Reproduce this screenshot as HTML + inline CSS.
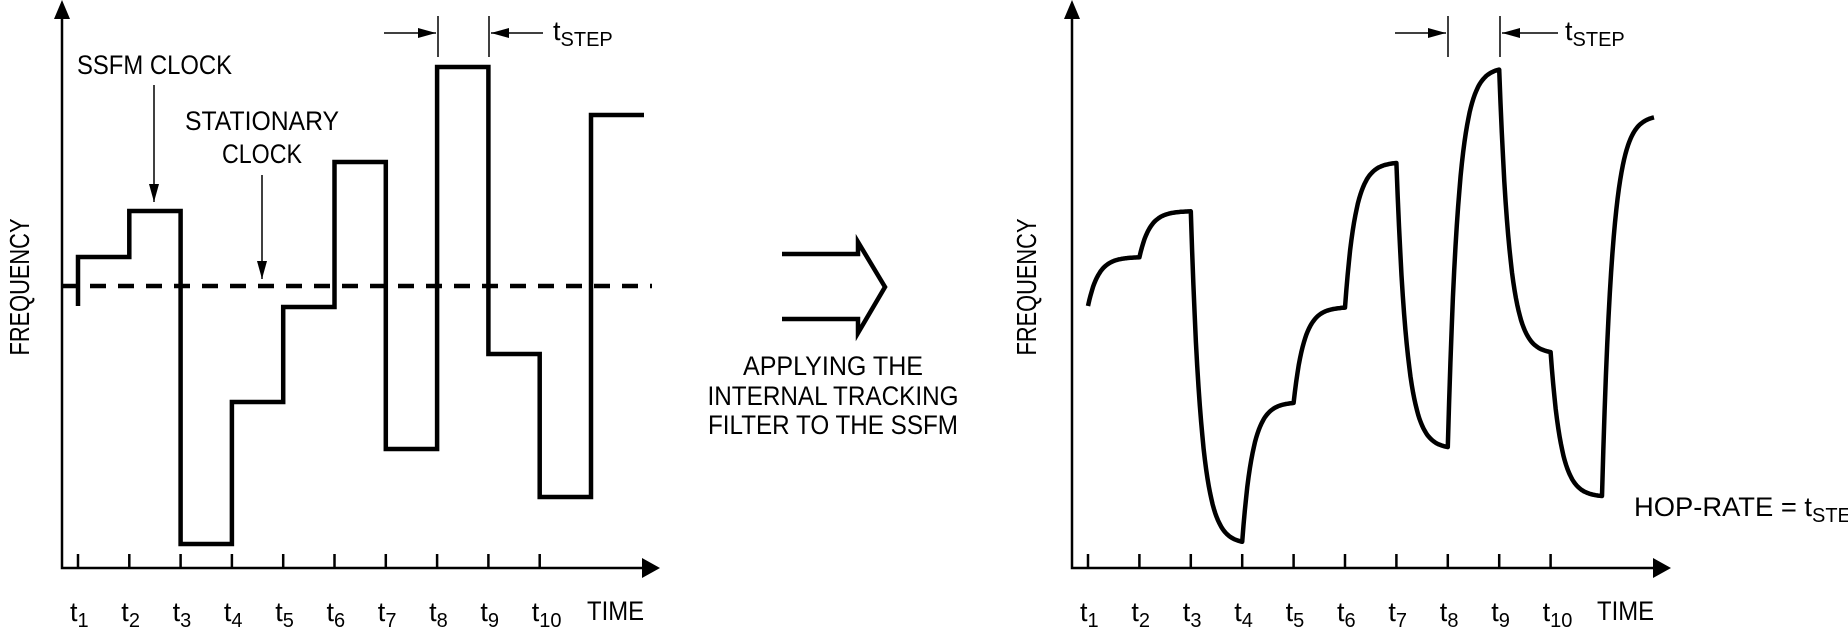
<!DOCTYPE html>
<html><head><meta charset="utf-8"><style>
html,body{margin:0;padding:0;background:#fff;}
svg{display:block;font-family:"Liberation Sans",sans-serif;}
text{fill:#000;}
</style></head><body>
<svg id="fig" width="1848" height="635" viewBox="0 0 1848 635" xmlns="http://www.w3.org/2000/svg">
<defs>
<marker id="ah" markerWidth="10" markerHeight="8" refX="10" refY="4" orient="auto" markerUnits="userSpaceOnUse"><path d="M0,0 L10,4 L0,8 Z" fill="#000"/></marker>
<marker id="ahs" markerWidth="18" markerHeight="10" refX="18" refY="5" orient="auto" markerUnits="userSpaceOnUse"><path d="M0,0 L18,5 L0,10 Z" fill="#000"/></marker>
</defs>
<g id="left"></g>
<g id="right"></g>

<g>
<text x="77" y="74" font-size="27" textLength="155" lengthAdjust="spacingAndGlyphs">SSFM CLOCK</text>
<line x1="154" y1="85" x2="154" y2="202" stroke="#000" stroke-width="1.5" marker-end="url(#ahs)"/>
<text x="185" y="130" font-size="27" textLength="154" lengthAdjust="spacingAndGlyphs">STATIONARY</text>
<text x="222" y="163" font-size="27" textLength="80" lengthAdjust="spacingAndGlyphs">CLOCK</text>
<line x1="262" y1="175" x2="262" y2="279" stroke="#000" stroke-width="1.5" marker-end="url(#ahs)"/>
<line x1="438" y1="16" x2="438" y2="57" stroke="#000" stroke-width="1.5"/>
<line x1="489" y1="16" x2="489" y2="57" stroke="#000" stroke-width="1.5"/>
<line x1="384" y1="33" x2="436" y2="33" stroke="#000" stroke-width="1.5" marker-end="url(#ahs)"/>
<line x1="543" y1="33" x2="491" y2="33" stroke="#000" stroke-width="1.5" marker-end="url(#ahs)"/>
<text x="553" y="40" font-size="27">t<tspan font-size="20" dy="6">STEP</tspan></text>
</g>

<g>
<path d="M782,254 L858,254 L858,242 L885,287 L858,333 L858,319 L782,319" fill="none" stroke="#000" stroke-width="4.5" stroke-linejoin="miter"/>
<text x="833" y="375" font-size="27" text-anchor="middle" textLength="180" lengthAdjust="spacingAndGlyphs">APPLYING THE</text>
<text x="833" y="405" font-size="27" text-anchor="middle" textLength="251" lengthAdjust="spacingAndGlyphs">INTERNAL TRACKING</text>
<text x="833" y="434" font-size="27" text-anchor="middle" textLength="250" lengthAdjust="spacingAndGlyphs">FILTER TO THE SSFM</text>
</g>

<g>
<line x1="1448" y1="16" x2="1448" y2="57" stroke="#000" stroke-width="1.5"/>
<line x1="1500" y1="16" x2="1500" y2="57" stroke="#000" stroke-width="1.5"/>
<line x1="1395" y1="33" x2="1446" y2="33" stroke="#000" stroke-width="1.5" marker-end="url(#ahs)"/>
<line x1="1558" y1="33" x2="1502" y2="33" stroke="#000" stroke-width="1.5" marker-end="url(#ahs)"/>
<text x="1565" y="40" font-size="27">t<tspan font-size="20" dy="6">STEP</tspan></text>
<text x="1634" y="516" font-size="27"><tspan textLength="178" lengthAdjust="spacingAndGlyphs">HOP-RATE = t</tspan><tspan font-size="20" dy="6">STEP</tspan></text>
</g>
</svg>
<script>
// Frequency levels (arbitrary units) for each hop interval
const startLevel = 52.4;
const hopLevels = [62.2, 71.4, 4.8, 33.2, 52.2, 81.2, 23.8, 100.2, 42.8, 14.2, 90.6];
const stationaryLevel = 56.4;
const tickLabels = ["1","2","3","4","5","6","7","8","9","10"];

const NS = "http://www.w3.org/2000/svg";
function mk(parent, tag, attrs){const e=document.createElementNS(NS,tag);for(const k in attrs)e.setAttribute(k,attrs[k]);parent.appendChild(e);return e;}
const yS = v => 568 - v*5;

function drawAxes(g, x0, tick0, step, tipX, freqX, endX){
  const ax = mk(g,'path',{d:`M${x0},16 L${x0},568 L${tipX-18},568`,fill:'none',stroke:'#000','stroke-width':2.5});
  
  
  const ya = mk(g,'path',{d:`M${x0-8},19 L${x0},0 L${x0+8},19 Z`,fill:'#000'});
  
  
  const xa = mk(g,'path',{d:`M${tipX-18},558 L${tipX},568 L${tipX-18},578 Z`,fill:'#000'});
  
  
  tickLabels.forEach((lab,i)=>{
    const x = tick0 + i*step;
    const tk = mk(g,'line',{x1:x,y1:554,x2:x,y2:568,stroke:'#000','stroke-width':2.5});
    
    
    const t = mk(g,'text',{x:x-8,y:621,'font-size':27});
    
    
    t.textContent='t';
    const s = mk(t,'tspan',{'font-size':20,dy:6});
    s.textContent=lab;
  });
  const tm = mk(g,'text',{x:endX,y:620,'font-size':27,textLength:57,lengthAdjust:'spacingAndGlyphs'});
  
  
  tm.textContent='TIME';
  const fq = mk(g,'text',{x:0,y:0,'font-size':28,'text-anchor':'middle',textLength:137,lengthAdjust:'spacingAndGlyphs',transform:`translate(${freqX},287) rotate(-90)`});
  
  
  fq.textContent='FREQUENCY';
}

// Left chart
(function(){
  const g=document.getElementById('left');
  const x0=62, t0=78, step=51.3;
  drawAxes(g,x0,t0,step,660,29,587);
  const dl = mk(g,'line',{x1:x0,y1:yS(stationaryLevel),x2:652,y2:yS(stationaryLevel),stroke:'#000','stroke-width':4.5,'stroke-dasharray':'16 12'});
  
  
  let d=`M${t0},${yS(startLevel)}`;
  hopLevels.forEach((v,i)=>{
    const x=t0+i*step;
    d+=` L${x},${yS(v)} L${i===hopLevels.length-1?644:t0+(i+1)*step},${yS(v)}`;
  });
  const p=mk(g,'path',{d,fill:'none',stroke:'#000','stroke-width':4.5,'stroke-linejoin':'miter'});
  
  
})();

// Right chart
(function(){
  const g=document.getElementById('right');
  const x0=1072, t0=1088, step=51.4;
  drawAxes(g,x0,t0,step,1671,1036,1597);
  let prev=startLevel;
  let d=`M${t0},${yS(prev)}`;
  const tau=0.2;
  hopLevels.forEach((v,i)=>{
    const xs=t0+i*step;
    const len = i===hopLevels.length-1 ? 1654-xs : step;
    let cur=prev;
    for(let k=1;k<=40;k++){
      const f=k/40;
      const u=f*len/step;
      cur = v+(prev-v)*Math.exp(-u/tau);
      d+=` L${(xs+f*len).toFixed(1)},${yS(cur).toFixed(1)}`;
    }
    prev=cur;
  });
  const p=mk(g,'path',{d,fill:'none',stroke:'#000','stroke-width':4.5,'stroke-linejoin':'round'});
  
  
})();
</script>
</body></html>
